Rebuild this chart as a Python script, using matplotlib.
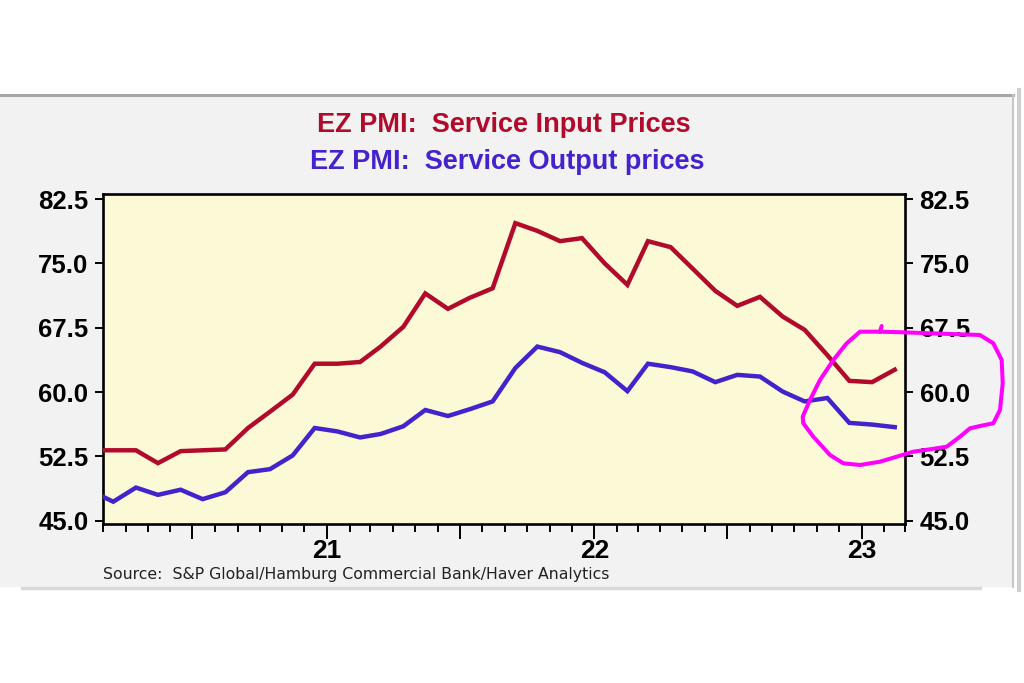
import datetime as dt

import matplotlib
matplotlib.use("Agg")
import matplotlib.pyplot as plt
import matplotlib.dates as mdates
from matplotlib.lines import Line2D
from matplotlib.patches import Rectangle
from matplotlib.ticker import FuncFormatter

# monthly readings, Feb 2020 .. Feb 2023 (plotted mid-month)
start_year, start_month = 2020, 2
input_prices = [53.2, 53.2, 53.2, 51.7, 53.1, 53.2, 53.3, 55.8, 57.7, 59.7, 63.3,
                63.3, 63.5, 65.3, 67.6, 71.5, 69.7, 71.0, 72.1, 79.7, 78.8, 77.6, 77.95,
                75.0, 72.5, 77.6, 76.9, 74.4, 71.8, 70.05, 71.1, 68.8, 67.25, 64.3, 61.3,
                61.15, 62.6]
output_prices = [48.4, 47.2, 48.85, 48.0, 48.6, 47.5, 48.3, 50.65, 51.0, 52.6, 55.8,
                 55.4, 54.7, 55.1, 56.0, 57.9, 57.2, 58.0, 58.9, 62.8, 65.3, 64.65, 63.4,
                 62.3, 60.1, 63.3, 62.9, 62.4, 61.15, 62.0, 61.8, 60.05, 58.9, 59.3, 56.4,
                 56.2, 55.9]
y_ticks = [45.0, 52.5, 60.0, 67.5, 75.0, 82.5]

title_in = "EZ PMI:  Service Input Prices"
title_out = "EZ PMI:  Service Output prices"
source = "Source:  S&P Global/Hamburg Commercial Bank/Haver Analytics"

# hand-drawn highlight loop, in figure pixels (x, y from top)
loop_px = [(881.7, 326), (880, 331.7), (903, 332.3), (930, 333.3), (980, 335),
           (993.3, 343.3), (1001.7, 360), (1002.7, 383.3), (1000, 410), (993.3, 423.3),
           (980, 426), (970, 428.3), (960, 436.7), (946.7, 446.7), (930, 449.3),
           (913.3, 451.7), (896.7, 456.7), (880, 461.7), (860, 465), (843.3, 463.3),
           (830, 455), (813.3, 436.7), (803.3, 423.3), (802.7, 416.7), (810, 400),
           (820, 380), (833.3, 360), (846.7, 343.3), (860, 331.7), (880, 331.7)]

RED = "#b10a2a"
BLUE = "#4422cc"
PANEL = "#f2f2f2"
PLOTBG = "#fcfad6"

W, H = 1024, 683
fig = plt.figure(figsize=(W / 100, H / 100), dpi=100, facecolor="white")
plt.rcParams["font.family"] = ["Liberation Sans", "DejaVu Sans"]

def fx(px):
    return px / W

def fy(py):
    return 1 - py / H

# grey window panel behind the chart
fig.add_artist(Rectangle((0, fy(587)), fx(1013), fy(96) - fy(587),
                         transform=fig.transFigure, fc=PANEL, ec="none", zorder=0))
fig.add_artist(Line2D([0, fx(1013)], [fy(95), fy(95)], transform=fig.transFigure,
                      color="#a6a6a6", lw=2.2, zorder=1))
fig.add_artist(Line2D([fx(1013), fx(1013)], [fy(95), fy(587)], transform=fig.transFigure,
                      color="#c8c8c8", lw=1.5, zorder=1))
fig.add_artist(Line2D([fx(1019), fx(1019)], [fy(90), fy(590)], transform=fig.transFigure,
                      color="#cfcfcf", lw=3, zorder=1))
fig.add_artist(Line2D([fx(22), fx(980)], [fy(588), fy(588)], transform=fig.transFigure,
                      color="#d9d9d9", lw=2.5, zorder=1))

ax = fig.add_axes([fx(103), fy(524), fx(905) - fx(103), fy(194) - fy(524)])
ax.set_facecolor(PLOTBG)

dates = []
for i in range(len(input_prices)):
    m = start_month - 1 + i
    dates.append(dt.date(start_year + m // 12, m % 12 + 1, 15))

ax.plot(dates, input_prices, color=RED, lw=3.2, solid_joinstyle="miter", zorder=3)
ax.plot(dates, output_prices, color=BLUE, lw=3.2, solid_joinstyle="miter", zorder=3)

ax.set_xlim(dt.date(2020, 3, 1), dt.date(2023, 3, 1))
ax.set_ylim(44.6, 83.1)

for s in ax.spines.values():
    s.set_linewidth(1.9)
    s.set_color("black")

ax.set_yticks(y_ticks)
ax.yaxis.set_major_formatter(FuncFormatter(lambda v, p: f"{v:.1f}"))
ax.tick_params(axis="y", which="both", left=True, right=True, labelleft=True,
               labelright=True, direction="out", length=5.5, width=1.4, pad=5,
               labelsize=18.5)

ax.xaxis.set_major_locator(mdates.MonthLocator(bymonth=[1, 7]))
ax.xaxis.set_minor_locator(mdates.MonthLocator())
ax.xaxis.set_major_formatter(FuncFormatter(
    lambda v, p: f"{mdates.num2date(v).year % 100}" if mdates.num2date(v).month == 1 else ""))
ax.tick_params(axis="x", which="major", direction="out", length=11, width=1.4,
               pad=0, labelsize=19)
ax.tick_params(axis="x", which="minor", direction="out", length=5.5, width=1.4)
for t in ax.xaxis.get_major_ticks():
    t.label1.set_fontweight("bold")
for t in ax.yaxis.get_major_ticks():
    t.label1.set_fontweight("bold")
    t.label2.set_fontweight("bold")

fig.text(fx(504), fy(125), title_in, ha="center", va="center", color=RED,
         fontsize=19.5, fontweight="bold")
fig.text(fx(507), fy(162), title_out, ha="center", va="center", color=BLUE,
         fontsize=19.5, fontweight="bold")
fig.text(fx(103), fy(575), source, ha="left", va="center", color="#222222",
         fontsize=11.3, family=["DejaVu Sans"])

fig.add_artist(Line2D([fx(p[0]) for p in loop_px], [fy(p[1]) for p in loop_px],
                      transform=fig.transFigure, color="#ff00ff", lw=2.9,
                      solid_joinstyle="round", solid_capstyle="round", zorder=10))

fig.savefig("out.png", dpi=100, facecolor="white")
